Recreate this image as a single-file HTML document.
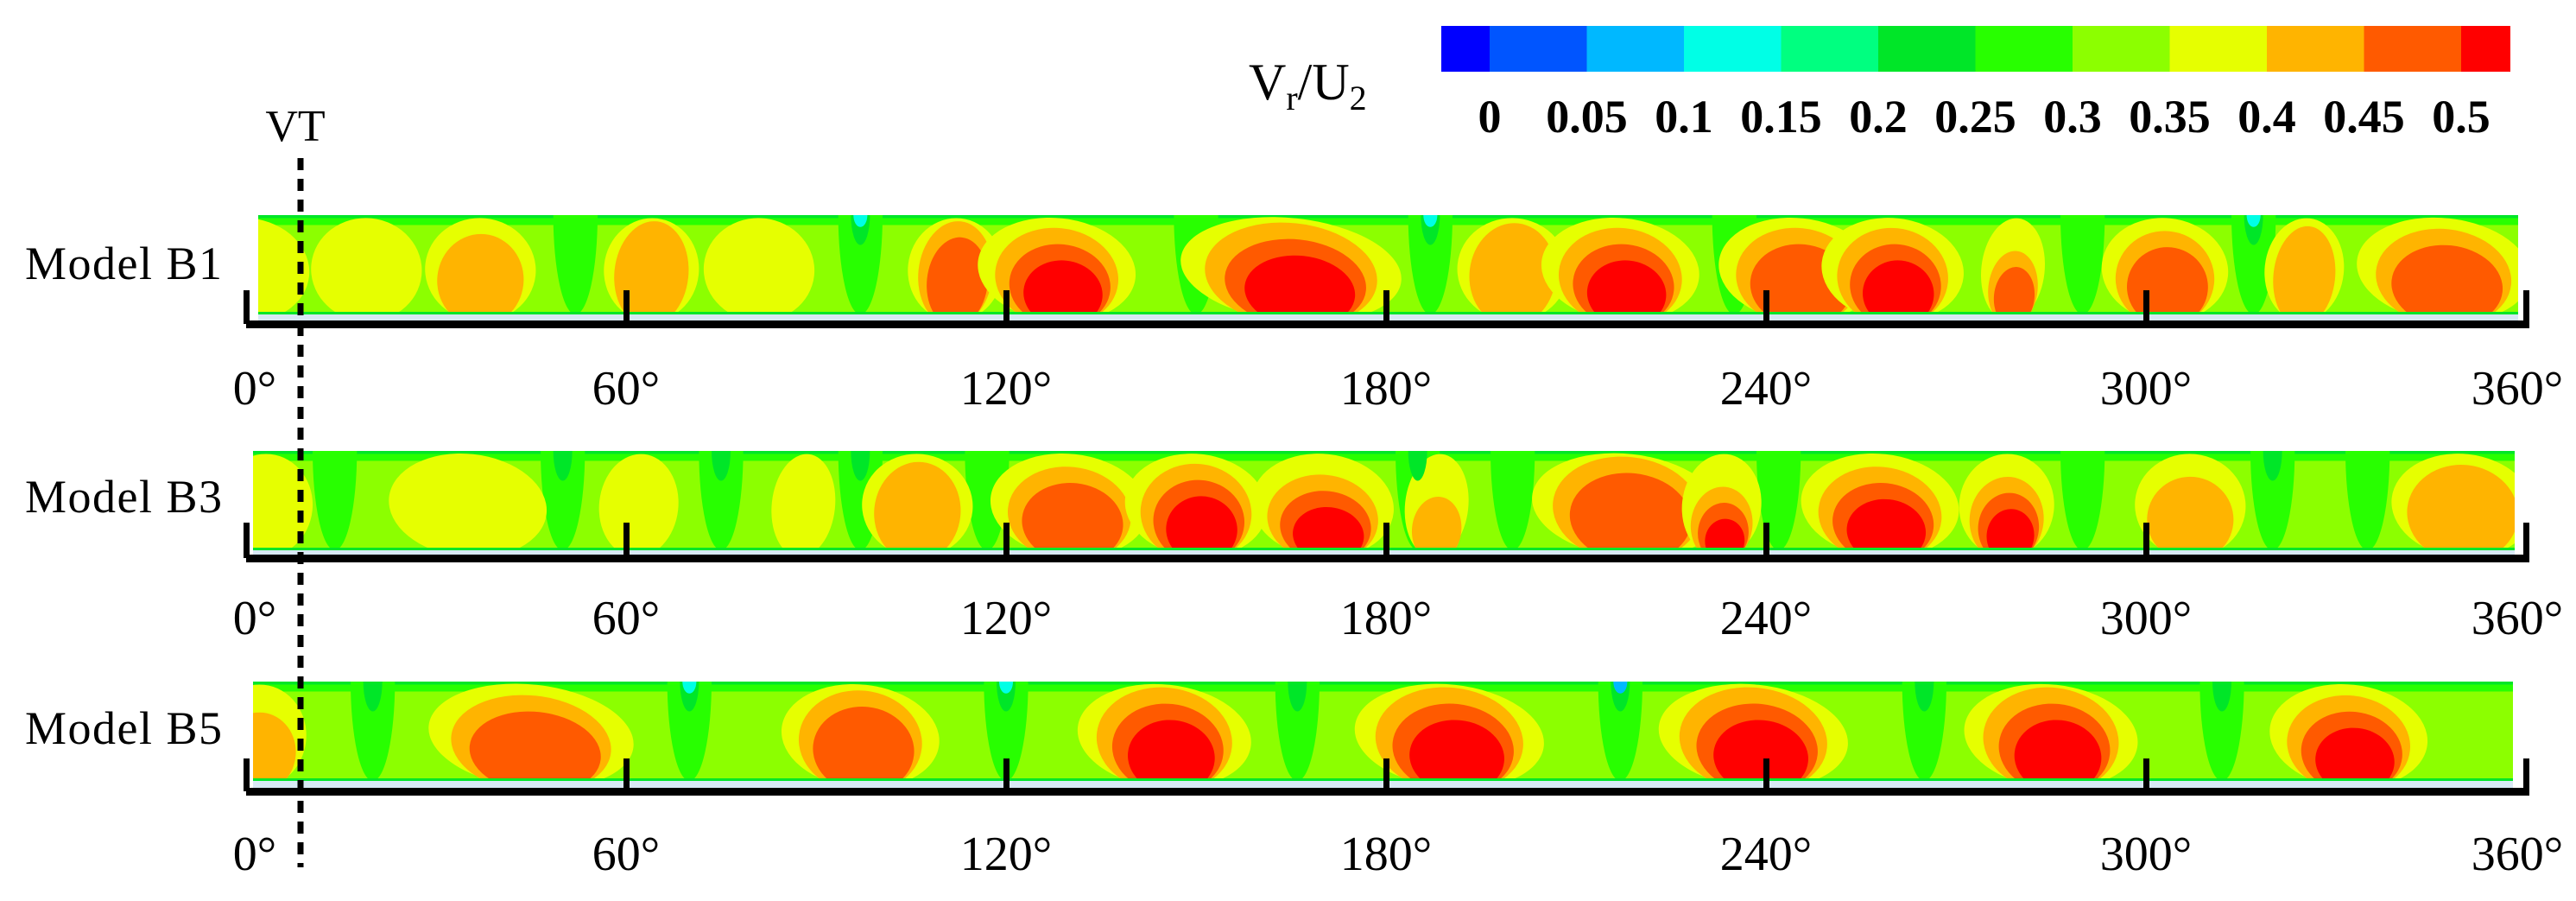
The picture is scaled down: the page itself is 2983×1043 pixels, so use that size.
<!DOCTYPE html>
<html><head><meta charset="utf-8"><style>
html,body{margin:0;padding:0;background:#fff;}
svg{display:block;}
</style></head><body>
<svg id="fig" width="2983" height="1043" viewBox="0 0 2983 1043" xmlns="http://www.w3.org/2000/svg" font-family="'Liberation Serif', 'DejaVu Serif', serif">
<defs>
<clipPath id="c0"><rect x="299" y="249" width="2617" height="115"/></clipPath>
<clipPath id="c1"><rect x="293" y="522" width="2619" height="115"/></clipPath>
<clipPath id="c2"><rect x="293" y="789" width="2617" height="115"/></clipPath>
</defs>
<g id="layer"></g>
</svg>
<script>
// colour-bar levels
const levelValues = [0,0.05,0.1,0.15,0.2,0.25,0.3,0.35,0.4,0.45,0.5];
const levelColors = ["#0000ff","#0055ff","#00b8ff","#00ffe6","#00ff80","#00e628","#28ff00","#8cff00","#e6ff00","#ffb400","#ff5a00","#ff0000"];
const tickDegrees = [0,60,120,180,240,300,360];
const modelNames = ["Model B1","Model B3","Model B5"];
// blobs: [deg, yCentreFrac, halfWidthDeg, halfHeightFrac, peakLevelIndex]
const blobsB1 = [[0,0.55,8,0.45,8],[19,0.5,7,0.42,8],[37,0.55,7,0.42,9],[64,0.35,6,0.35,9],[81,0.6,7,0.4,8],[112,0.4,6,0.4,10],[128,0.55,10,0.48,11],[165,0.5,14,0.48,11],[200,0.4,7,0.38,9],[217,0.55,10,0.48,11],[245,0.55,10,0.48,10],[260,0.55,9,0.48,11],[279,0.65,4,0.35,10],[303,0.55,8,0.45,10],[325,0.35,5,0.3,9],[347,0.55,11,0.47,10]];
const blobsB3 = [[3,0.55,6,0.45,8],[35,0.6,10,0.42,8],[62,0.45,5,0.4,8],[88,0.5,4,0.3,8],[106,0.5,7,0.45,9],[130,0.55,10,0.45,10],[150,0.55,9,0.48,11],[170,0.6,9,0.42,11],[188,0.7,4,0.3,9],[218,0.5,12,0.5,10],[233,0.65,5,0.35,11],[258,0.55,10,0.45,11],[278,0.6,6,0.4,11],[307,0.6,7,0.4,9],[350,0.55,9,0.47,9]];
const blobsB5 = [[2,0.65,6,0.4,9],[45,0.55,13,0.47,10],[97,0.5,10,0.47,10],[145,0.5,11,0.5,11],[190,0.5,12,0.5,11],[238,0.5,12,0.5,11],[285,0.5,11,0.5,11],[332,0.55,10,0.47,11]];
// wakes: [deg, strength]
const wakesB1 = [[52,1],[97,3],[150,1],[187,3],[235,1],[290,1],[317,3]];
const wakesB3 = [[14,1],[50,2],[75,2],[97,2],[117,1],[185,2],[200,1],[242,1],[290,1],[320,2],[335,1]];
const wakesB5 = [[20,2],[70,3],[120,3],[166,2],[217,3],[265,2],[312,2]];

const NS="http://www.w3.org/2000/svg";
const FONT="'Liberation Serif', 'DejaVu Serif', serif";
const layer=document.getElementById('layer');
function mk(tag,attrs,parent){const e=document.createElementNS(NS,tag);for(const k in attrs)e.setAttribute(k,attrs[k]);(parent||layer).appendChild(e);return e;}
const x0=285,x1=2925;
const degPx=(x1-x0)/360;
function xScale(d){return x0+d*degPx;}

const panels=[
 {top:249,bot:364,axis:375,tickTop:336,lab:449,name:303,left:299,right:2916,clip:"c0",blobs:blobsB1,wakes:wakesB1},
 {top:522,bot:637,axis:646,tickTop:605,lab:715,name:573,left:293,right:2912,clip:"c1",blobs:blobsB3,wakes:wakesB3},
 {top:789,bot:904,axis:916,tickTop:878,lab:988,name:841,left:293,right:2910,clip:"c2",blobs:blobsB5,wakes:wakesB5}
];

panels.forEach((p,pi)=>{
 const g=mk('g',{'clip-path':'url(#'+p.clip+')'});
 
 
 const H=p.bot-p.top;
 mk('rect',{x:p.left,y:p.top,width:p.right-p.left,height:H,fill:levelColors[7]},g);
 mk('rect',{x:p.left,y:p.top,width:p.right-p.left,height:H*0.1,fill:levelColors[6]},g);
 mk('rect',{x:p.left,y:p.top,width:p.right-p.left,height:H*0.03,fill:levelColors[5]},g);
 p.wakes.forEach(w=>{
  const cx=xScale(w[0]);
  const e1=mk('ellipse',{cx:cx,cy:p.top,rx:degPx*3.5,ry:H*1.0,fill:levelColors[6]},g);
  
  
 });
 p.blobs.forEach(b=>{
  const cx=xScale(b[0]);const rx0=b[2]*degPx*1.25;
  const cyO=p.top+H*0.55;
  const eo=mk('ellipse',{cx:cx,cy:cyO,rx:rx0,ry:H*0.52,fill:levelColors[8],transform:'rotate(6 '+cx+' '+cyO+')'},g);
  
  
  for(let L=9;L<=b[4];L++){
   const topY=p.top+(b[1]-b[3])*H+(L-9)*0.16*H+0.06*H;
   const botY=p.bot+0.12*H;
   const ry=(botY-topY)/2, cy=(botY+topY)/2;
   const rx=rx0*(0.78-0.14*(L-9));
   const e=mk('ellipse',{cx:cx+(L-9)*rx0*0.04,cy:cy,rx:rx,ry:ry,fill:levelColors[L],transform:'rotate(6 '+cx+' '+cy+')'},g);
   
   
  }
 });
 p.wakes.forEach(w=>{
  const cx=xScale(w[0]);
  if(w[1]>=2) mk('ellipse',{cx:cx,cy:p.top,rx:degPx*1.5,ry:H*0.3,fill:levelColors[5]},g);
  if(w[1]>=3) mk('ellipse',{cx:cx,cy:p.top,rx:degPx*1.1,ry:H*0.12,fill:pi===2&&w[0]>200&&w[0]<230?levelColors[2]:levelColors[3]},g);
 });
 mk('rect',{x:p.left,y:p.bot-3,width:p.right-p.left,height:3,fill:levelColors[5]});
 mk('rect',{x:p.left,y:p.bot,width:p.right-p.left,height:p.axis-p.bot-4,fill:'#d8e8f4'});
 const ax=mk('rect',{x:x0,y:p.axis-4,width:x1-x0+4,height:9,fill:'#000'});
 
 
 tickDegrees.forEach(d=>{
  const t=mk('rect',{x:xScale(d)-3,y:p.tickTop,width:7,height:p.axis-p.tickTop,fill:'#000'});
  
  
  const tx=mk('text',{x:xScale(d)+(d===0?10:d===360?-10:0),y:p.lab+19,'font-size':56,'font-family':FONT,'text-anchor':'middle',fill:'#000'});
  tx.textContent=d+'°';
  
  
 });
 const nm=mk('text',{x:29,y:p.name+20,'font-size':54,'font-family':FONT,textLength:228,fill:'#000'});
 nm.textContent=modelNames[pi];
 
 
});

// VT dashed line
const vt=mk('line',{x1:348,y1:183,x2:348,y2:1004,stroke:'#000','stroke-width':7,'stroke-dasharray':'14 10'});


const vtl=mk('text',{x:342,y:163,'font-size':52,'font-family':FONT,'text-anchor':'middle',fill:'#000'});
vtl.textContent='VT';



// colour bar
const cbx=1669, unit=112.5;
levelColors.forEach((c,i)=>{
 const x=i===0?cbx:cbx+56+(i-1)*unit;
 const w=(i===0||i===levelColors.length-1)?57:unit+0.5;
 const r=mk('rect',{x:x,y:30,width:w,height:53,fill:c});
 
 
});
levelValues.forEach((v,i)=>{
 const t=mk('text',{x:cbx+56+i*unit,y:153,'font-size':54,'font-family':FONT,'font-weight':'bold','text-anchor':'middle',fill:'#000'});
 t.textContent=String(v);
 
 
});
const ct=mk('text',{x:1446,y:115,'font-size':60,'font-family':FONT,fill:'#000'});
ct.innerHTML='V<tspan font-size="40" dy="12">r</tspan><tspan dy="-12">/U</tspan><tspan font-size="40" dy="12">2</tspan>';


</script>
</body></html>
